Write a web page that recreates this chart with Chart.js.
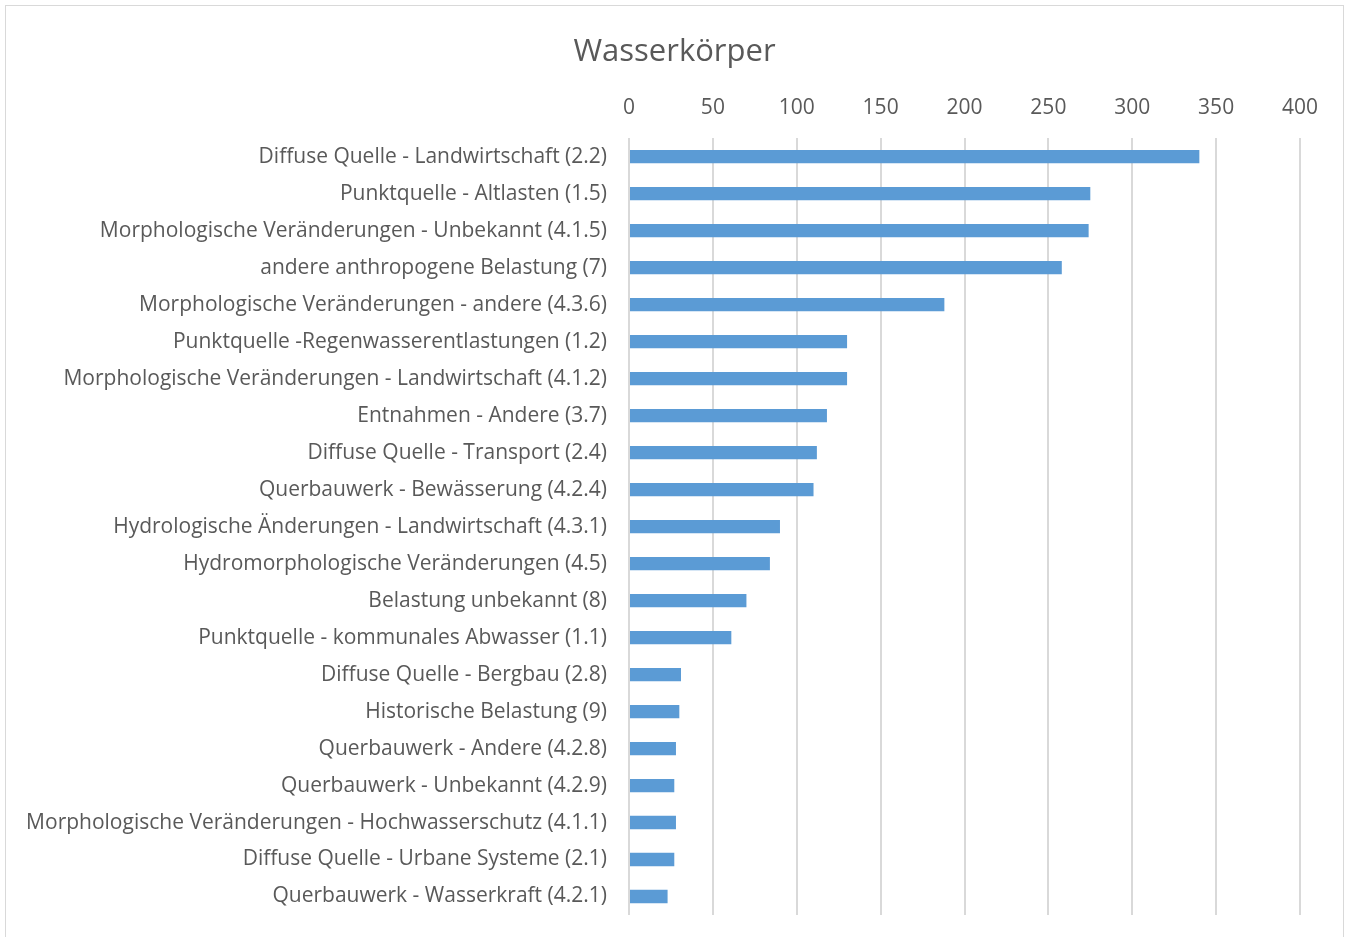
<!DOCTYPE html>
<html>
<head>
<meta charset="utf-8">
<script src="https://cdn.jsdelivr.net/npm/chart.js@4"></script>
<style>
  body { margin: 0; background: #fff; }
  #frame { position: absolute; left: 5px; top: 5px; width: 1339px; height: 940px; border: 1px solid #d9d9d9; box-sizing: border-box; }
  #wrap { position: absolute; left: 0; top: 0; width: 1349px; height: 937px; }
</style>
</head>
<body>
<div id="frame"></div>
<div id="wrap"><canvas id="bar-chart"></canvas></div>
<script>
// data
var categories = [
    'Diffuse Quelle - Landwirtschaft (2.2)',
    'Punktquelle - Altlasten (1.5)',
    'Morphologische Veränderungen - Unbekannt (4.1.5)',
    'andere anthropogene Belastung (7)',
    'Morphologische Veränderungen - andere (4.3.6)',
    'Punktquelle -Regenwasserentlastungen (1.2)',
    'Morphologische Veränderungen - Landwirtschaft (4.1.2)',
    'Entnahmen - Andere (3.7)',
    'Diffuse Quelle - Transport (2.4)',
    'Querbauwerk - Bewässerung (4.2.4)',
    'Hydrologische Änderungen - Landwirtschaft (4.3.1)',
    'Hydromorphologische Veränderungen (4.5)',
    'Belastung unbekannt (8)',
    'Punktquelle - kommunales Abwasser (1.1)',
    'Diffuse Quelle - Bergbau (2.8)',
    'Historische Belastung (9)',
    'Querbauwerk - Andere (4.2.8)',
    'Querbauwerk - Unbekannt (4.2.9)',
    'Morphologische Veränderungen - Hochwasserschutz (4.1.1)',
    'Diffuse Quelle - Urbane Systeme (2.1)',
    'Querbauwerk - Wasserkraft (4.2.1)'
];
var wasserkoerper = [340, 275, 274, 258, 188, 130, 130, 118, 112, 110, 90, 84, 70, 61, 31, 30, 28, 27, 28, 27, 23];
var axisMin = 0;
var axisMax = 400;
var axisStep = 50;

var textColor = '#595959';
var gridColor = '#d9d9d9';
var fontFamily = "'Open Sans', 'Noto Sans', sans-serif";

var ctx = document.getElementById('bar-chart');
var chart = new Chart(ctx.getContext('2d'), {
    type: 'bar',
    data: {
        labels: categories,
        datasets: [{
            label: 'Wasserkörper',
            data: wasserkoerper,
            backgroundColor: '#5b9bd5',
            borderWidth: 0,
            barPercentage: 0.36,
            categoryPercentage: 1
        }]
    },
    options: {
        indexAxis: 'y',
        responsive: true,
        maintainAspectRatio: false,
        animation: false,
        layout: {
            padding: { left: 0, right: 0, top: 0, bottom: 22 }
        },
        plugins: {
            legend: { display: false },
            tooltip: { enabled: false },
            title: {
                display: true,
                text: 'Wasserkörper',
                color: textColor,
                font: { family: fontFamily, size: 31, weight: 'normal' },
                padding: { top: 34, bottom: 5 }
            }
        },
        scales: {
            x: {
                position: 'top',
                min: axisMin,
                max: axisMax,
                ticks: {
                    stepSize: axisStep,
                    color: textColor,
                    font: { family: fontFamily, size: 21 },
                    padding: 18
                },
                grid: { color: gridColor, lineWidth: 2, drawTicks: false },
                border: { display: false },
                afterFit: function (scale) {
                    scale.height = 62;
                }
            },
            y: {
                ticks: {
                    color: textColor,
                    font: { family: fontFamily, size: 21 },
                    padding: 22,
                    autoSkip: false
                },
                grid: { display: false, drawTicks: false },
                border: { display: false },
                afterFit: function (scale) {
                    scale.width = 629;
                    // stop the label half-heights from padding the plot area
                    scale.paddingTop = 0;
                    scale.paddingBottom = 0;
                }
            },
            // empty right-hand axis only to keep the plot clear of the right edge
            yRight: {
                type: 'linear',
                position: 'right',
                ticks: { display: false },
                grid: { display: false, drawTicks: false },
                border: { display: false },
                afterFit: function (scale) {
                    scale.width = 49;
                    scale.paddingTop = 0;
                    scale.paddingBottom = 0;
                }
            }
        }
    }
});
</script>
</body>
</html>
